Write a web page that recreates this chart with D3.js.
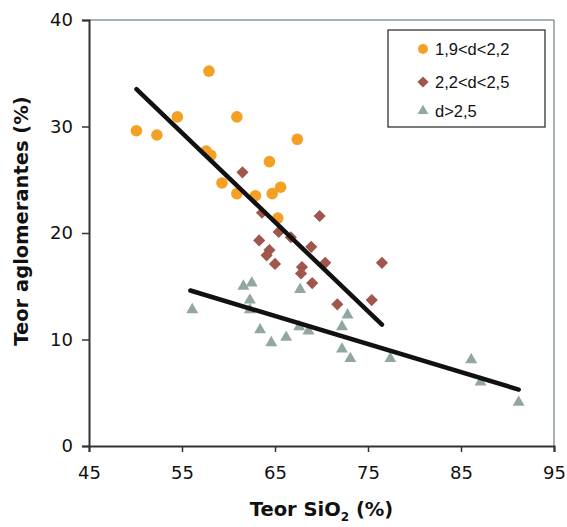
<!DOCTYPE html>
<html>
<head>
<meta charset="utf-8">
<script src="https://cdn.jsdelivr.net/npm/d3@7"></script>
<style>
  body { margin: 0; background: #fff; }
  svg { display: block; }
</style>
</head>
<body>
<div id="chart"></div>
<script>
// Series: [SiO2 %, binder %]
const lowDensity = [
  [50.1, 29.6], [52.3, 29.2], [54.5, 30.9], [57.9, 35.2], [60.9, 30.9],
  [67.4, 28.8], [57.6, 27.7], [58.1, 27.3], [59.3, 24.7], [60.9, 23.7],
  [62.9, 23.5], [64.4, 26.7], [64.7, 23.7], [65.6, 24.3], [65.3, 21.4]
];
const midDensity = [
  [61.5, 25.7], [63.6, 21.9], [69.8, 21.6], [65.4, 20.1], [66.7, 19.6],
  [63.3, 19.3], [68.9, 18.7], [64.4, 18.4], [64.1, 17.9], [65.0, 17.1],
  [70.4, 17.2], [67.9, 16.8], [67.8, 16.2], [69.0, 15.3], [76.5, 17.2],
  [71.7, 13.3], [75.4, 13.7]
];
const highDensity = [
  [56.1, 12.8], [61.6, 15.0], [62.5, 15.3], [62.3, 13.7], [62.3, 12.8],
  [63.4, 10.9], [64.6, 9.7], [66.2, 10.2], [67.7, 14.7], [67.6, 11.2],
  [68.6, 10.8], [72.8, 12.3], [72.2, 11.2], [72.2, 9.1], [73.1, 8.2],
  [77.4, 8.2], [86.1, 8.1], [87.1, 6.0], [91.2, 4.1]
];
// Trend lines (endpoints)
const trendUpper = [[50.1, 33.5], [76.5, 11.4]];
const trendLower = [[55.9, 14.6], [91.2, 5.3]];

const xTicks = [45, 55, 65, 75, 85, 95];
const yTicks = [0, 10, 20, 30, 40];
const legendLabels = ["1,9<d<2,2", "2,2<d<2,5", "d>2,5"];

const width = 567, height = 527;
const margin = { top: 20, right: 13, bottom: 81, left: 89 };
const innerW = width - margin.left - margin.right;
const innerH = height - margin.top - margin.bottom;

const colors = { orange: "#f4a024", brown: "#a0564c", gray: "#93a7a2" };

const svg = d3.select("#chart").append("svg")
  .attr("width", width)
  .attr("height", height);

const g = svg.append("g")
  .attr("transform", `translate(${margin.left},${margin.top})`);

const x = d3.scaleLinear().domain([45, 95]).range([0, innerW]);
const y = d3.scaleLinear().domain([0, 40]).range([innerH, 0]);

// frame top / right
g.append("line").attr("x1", 0).attr("x2", innerW).attr("y1", 0).attr("y2", 0)
  .attr("stroke", "#8a9a97").attr("stroke-width", 1.5);
g.append("line").attr("x1", innerW).attr("x2", innerW).attr("y1", 0).attr("y2", innerH)
  .attr("stroke", "#8a9a97").attr("stroke-width", 1.5);

// axes
const xAxis = g.append("g")
  .attr("transform", `translate(0,${innerH})`)
  .call(d3.axisBottom(x).tickValues(xTicks).tickSize(6).tickPadding(14));
const yAxis = g.append("g")
  .call(d3.axisLeft(y).tickValues(yTicks).tickSize(7).tickPadding(9));

[xAxis, yAxis].forEach(a => {
  a.select(".domain").attr("stroke", "#333").attr("stroke-width", 2);
  a.selectAll(".tick line").attr("stroke", "#333").attr("stroke-width", 1.5);
  a.selectAll(".tick text")
    .attr("fill", "#111")
    .style("font-family", "'DejaVu Sans', sans-serif")
    .style("font-size", "18px");
});

// points
g.selectAll(".pt-low").data(lowDensity).enter().append("circle")
  .attr("class", "pt-low")
  .attr("cx", d => x(d[0])).attr("cy", d => y(d[1]))
  .attr("r", 5.8)
  .attr("fill", colors.orange);

const diamond = d3.symbol().type(d3.symbolSquare).size(74);
g.selectAll(".pt-mid").data(midDensity).enter().append("path")
  .attr("class", "pt-mid")
  .attr("d", diamond)
  .attr("transform", d => `translate(${x(d[0])},${y(d[1])}) rotate(45)`)
  .attr("fill", colors.brown);

const triangle = d3.symbol().type(d3.symbolTriangle).size(62);
g.selectAll(".pt-high").data(highDensity).enter().append("path")
  .attr("class", "pt-high")
  .attr("d", triangle)
  .attr("transform", d => `translate(${x(d[0])},${y(d[1])})`)
  .attr("fill", colors.gray);

// trend lines
const line = d3.line().x(d => x(d[0])).y(d => y(d[1]));
[trendUpper, trendLower].forEach(t => {
  g.append("path")
    .attr("d", line(t))
    .attr("fill", "none")
    .attr("stroke", "#111")
    .attr("stroke-width", 4.5)
    .attr("stroke-linecap", "round");
});

// legend
const legend = svg.append("g").attr("transform", "translate(388,30)");
legend.append("rect")
  .attr("width", 157).attr("height", 97)
  .attr("fill", "#fff").attr("stroke", "#222").attr("stroke-width", 1.2);

const rowsY = [19, 52, 81];
const markers = [
  sel => sel.append("circle").attr("r", 5).attr("fill", colors.orange),
  sel => sel.append("path").attr("d", d3.symbol().type(d3.symbolSquare).size(62)())
    .attr("transform", "rotate(45)").attr("fill", colors.brown),
  sel => sel.append("path").attr("d", d3.symbol().type(d3.symbolTriangle).size(50)())
    .attr("fill", colors.gray)
];
legendLabels.forEach((label, i) => {
  const row = legend.append("g").attr("transform", `translate(35,${rowsY[i]})`);
  markers[i](row);
  row.append("text")
    .attr("x", 12).attr("y", 6)
    .attr("fill", "#111")
    .style("font-family", "'Liberation Sans', Arial, sans-serif")
    .style("font-size", "16.5px")
    .text(label);
});

// axis titles
svg.append("text")
  .attr("transform", `translate(28,${margin.top + innerH / 2 - 12}) rotate(-90)`)
  .attr("text-anchor", "middle")
  .attr("fill", "#111")
  .style("font-family", "'DejaVu Sans', sans-serif")
  .style("font-weight", "bold")
  .style("font-size", "19.5px")
  .text("Teor aglomerantes (%)");

const xt = svg.append("text")
  .attr("x", margin.left + innerW / 2)
  .attr("y", 516)
  .attr("text-anchor", "middle")
  .attr("fill", "#111")
  .style("font-family", "'DejaVu Sans', sans-serif")
  .style("font-weight", "bold")
  .style("font-size", "19.5px");
xt.append("tspan").text("Teor SiO");
xt.append("tspan").attr("dy", 5).style("font-size", "12px").text("2");
xt.append("tspan").attr("dy", -5).text(" (%)");
</script>
</body>
</html>
